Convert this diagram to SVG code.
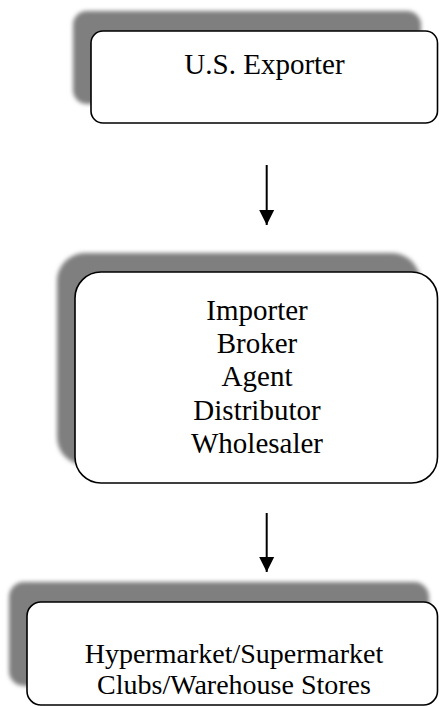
<svg xmlns="http://www.w3.org/2000/svg" width="439" height="706" viewBox="0 0 439 706">
<style>
.box{fill:#fff;stroke:#000;stroke-width:1.6}
.sh{fill:#7f7f7f;filter:url(#blur)}
.t{font-family:"Liberation Serif","Times New Roman",serif;font-size:29px;fill:#000;text-anchor:middle}
.t3{font-size:28px}
.conn{stroke:#000;stroke-width:2;fill:none}
</style>
<defs>
<filter id="blur" x="-10%" y="-20%" width="120%" height="140%"><feGaussianBlur stdDeviation="2.2"/></filter>
<marker id="ah" markerUnits="userSpaceOnUse" markerWidth="16" markerHeight="16" refX="15" refY="8" orient="auto" viewBox="0 0 16 16"><path d="M0,0.5 L15,8 L0,15.5 Z" fill="#000"/></marker>
</defs>
<g id="n1">
<rect class="sh" x="73" y="11" width="348" height="93" rx="14"/>
<rect class="box" x="91" y="31" width="346.5" height="92" rx="12"/>
<text class="t" x="264.5" y="74">U.S. Exporter</text>
</g>
<g id="n2">
<rect class="sh" x="57" y="253" width="363" height="212" rx="28"/>
<rect class="box" x="75" y="272" width="362.5" height="211" rx="26"/>
<text class="t" x="257" y="320">Importer</text>
<text class="t" x="257" y="353">Broker</text>
<text class="t" x="257" y="386">Agent</text>
<text class="t" x="257" y="420">Distributor</text>
<text class="t" x="257" y="453">Wholesaler</text>
</g>
<g id="n3">
<rect class="sh" x="9" y="582" width="420" height="104" rx="15"/>
<rect class="box" x="27" y="602" width="410.5" height="103" rx="14"/>
<text class="t t3" x="234" y="663">Hypermarket/Supermarket</text>
<text class="t t3" x="234" y="694">Clubs/Warehouse Stores</text>
</g>
<g id="connectors">
<line class="conn" x1="266.7" y1="165" x2="266.7" y2="225" marker-end="url(#ah)"/>
<line class="conn" x1="266.7" y1="513" x2="266.7" y2="572" marker-end="url(#ah)"/>
</g>
</svg>
